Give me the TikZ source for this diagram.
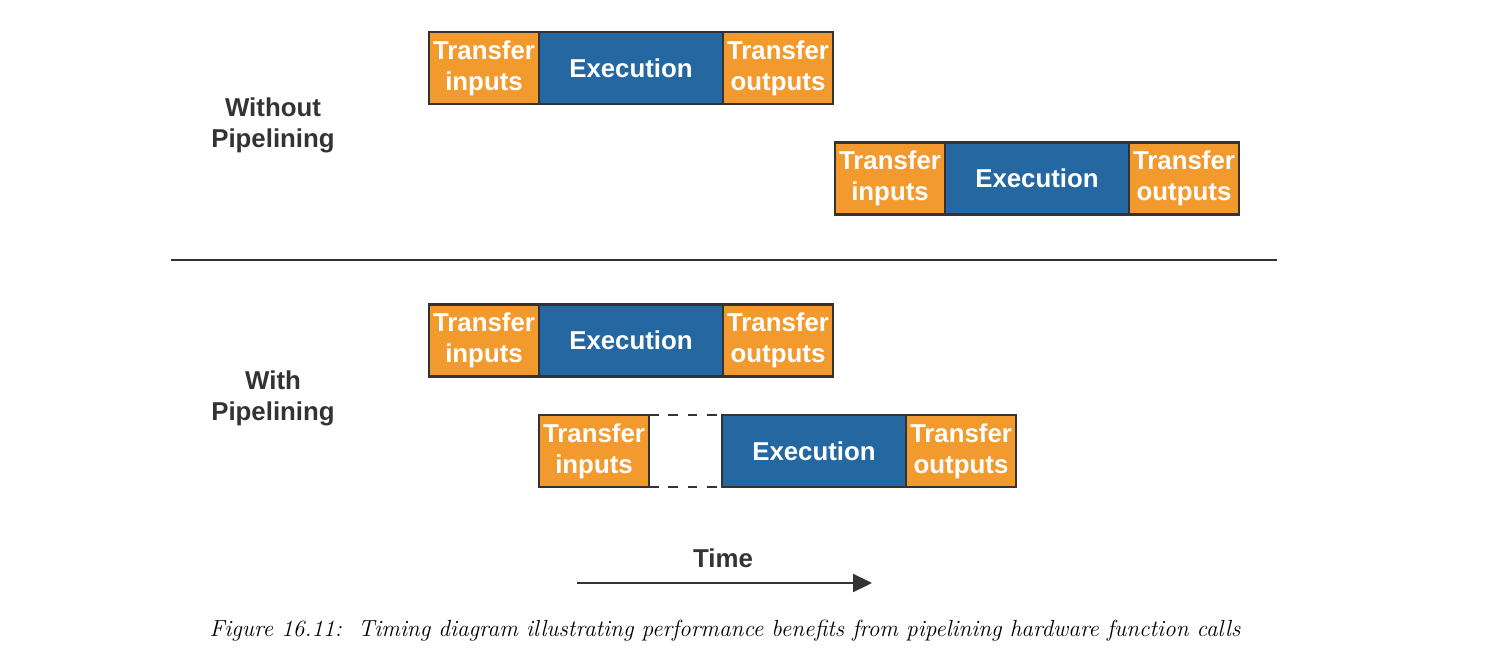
\documentclass[tikz,border=0pt]{standalone}
\usepackage{fontspec}
\setsansfont{Liberation Sans}
\usetikzlibrary{positioning,arrows.meta}
\definecolor{naranja}{RGB}{243,154,46}
\definecolor{azul}{RGB}{37,103,161}
\definecolor{gris}{RGB}{51,51,51}
\tikzset{
  caja/.style={draw=gris, line width=1.6pt, outer sep=0pt, minimum height=1.44cm,
    text=white, align=center, font=\sffamily\bfseries\fontsize{14.7}{17.6}\selectfont},
  transferencia/.style={caja, fill=naranja, minimum width=2.2cm, inner sep=0pt},
  ejecucion/.style={caja, fill=azul, minimum width=3.68cm},
  etiqueta/.style={text=gris, align=center, font=\sffamily\bfseries\fontsize{14.7}{17.6}\selectfont}
}
\begin{document}
\begin{tikzpicture}
    \useasboundingbox (0,0) rectangle (29.96,-13.26);

    % Sin pipelining
    \node[etiqueta] (sin) at (5.46,-2.51) {Without\\Pipelining};
    \node[transferencia] (ent1) at (9.68,-1.36) {Transfer\\inputs};
    \node[ejecucion, right=0pt of ent1] (eje1) {Execution};
    \node[transferencia, right=0pt of eje1] (sal1) {Transfer\\outputs};

    \node[transferencia] (ent2) at (17.8,-3.57) {Transfer\\inputs};
    \node[ejecucion, right=0pt of ent2] (eje2) {Execution};
    \node[transferencia, right=0pt of eje2] (sal2) {Transfer\\outputs};

    % Separador
    \draw[gris, line width=1.3pt] (3.42,-5.2) -- (25.54,-5.2);

    % Con pipelining
    \node[etiqueta] (con) at (5.46,-7.96) {With\\Pipelining};
    \node[transferencia] (ent3) at (9.68,-6.81) {Transfer\\inputs};
    \node[ejecucion, right=0pt of ent3] (eje3) {Execution};
    \node[transferencia, right=0pt of eje3] (sal3) {Transfer\\outputs};

    \node[transferencia] (ent4) at (11.88,-9.02) {Transfer\\inputs};
    \node[minimum width=1.46cm, minimum height=1.44cm, outer sep=0pt, right=0pt of ent4] (espera) {};
    \node[ejecucion, right=0pt of espera] (eje4) {Execution};
    \node[transferencia, right=0pt of eje4] (sal4) {Transfer\\outputs};
    \draw[gris, line width=1.6pt, dash pattern=on 5.5pt off 5.5pt] (espera.north west) -- (espera.north east);
    \draw[gris, line width=1.6pt, dash pattern=on 5.5pt off 5.5pt] (espera.south west) -- (espera.south east);

    % Tiempo
    \node[etiqueta] (tiempo) at (14.46,-11.16) {Time};
    \coordinate (t0) at (11.54,-11.66);
    \coordinate (t1) at (17.44,-11.66);
    \draw[gris, line width=1.3pt, -{Triangle[length=0.38cm, width=0.36cm]}] (t0) -- (t1);

    % Pie de figura
    \node[font=\itshape\fontsize{13.25}{15}\selectfont] (pie) at (14.5,-12.62)
      {Figure 16.11:\ \ Timing diagram illustrating performance benefits from pipelining hardware function calls};
\end{tikzpicture}
\end{document}
